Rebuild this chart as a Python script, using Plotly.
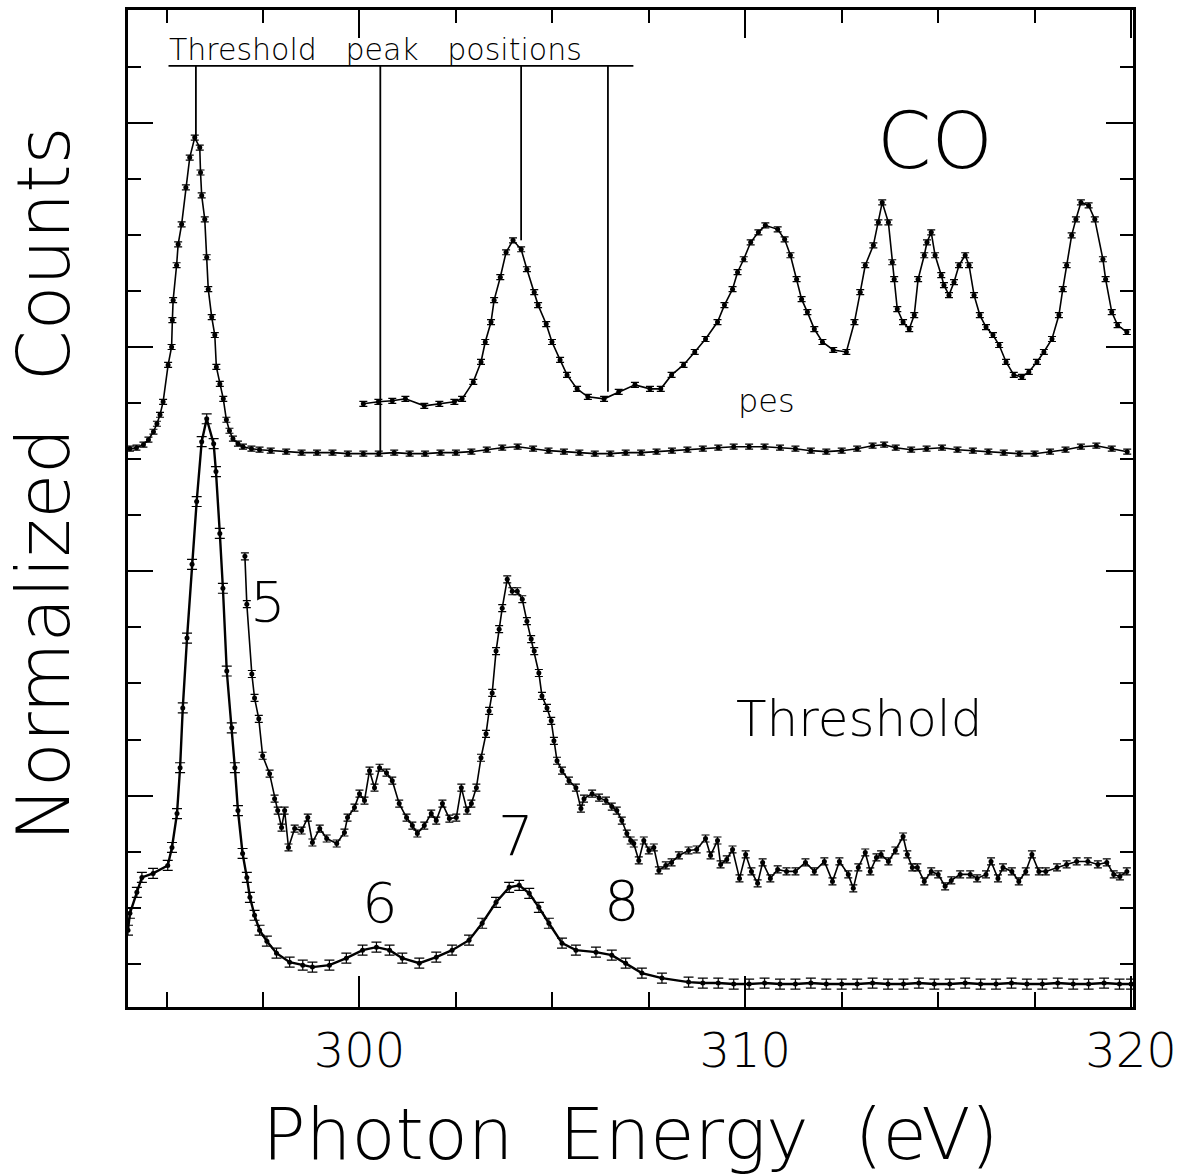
import plotly.graph_objects as go

# ---------------- data ----------------
# Photon energy in eV, normalized counts in arbitrary units (0..100 = axis span)

# CO photoelectron (pes) spectrum, full scale
pes_x = [294.05, 294.22, 294.40, 294.53, 294.66, 294.75, 294.83, 294.91, 295.04, 295.13,
         295.15, 295.17, 295.26, 295.30, 295.39, 295.50, 295.60, 295.73, 295.86, 295.88,
         295.91, 295.99, 296.04, 296.08, 296.17, 296.25, 296.29, 296.38, 296.47, 296.55,
         296.63, 296.72, 296.85, 296.98, 297.20, 297.41,
         297.7, 298.1, 298.5, 298.9, 299.3, 299.7, 300.1, 300.5, 300.9, 301.3,
         301.7, 302.1, 302.5, 302.9, 303.3, 303.7, 304.1, 304.5, 304.9, 305.3,
         305.7, 306.1, 306.5, 306.9, 307.3, 307.7, 308.1, 308.5, 308.9, 309.3,
         309.7, 310.1, 310.5, 310.9, 311.3, 311.7, 312.1, 312.5, 312.9, 313.3,
         313.6, 313.9, 314.3, 314.7, 315.1, 315.5, 315.9, 316.3, 316.7, 317.1,
         317.5, 317.9, 318.3, 318.7, 319.1, 319.5, 319.9]
pes_y = [56.0, 56.1, 56.4, 56.9, 57.7, 58.5, 59.4, 60.7, 64.4, 66.2,
         68.9, 70.9, 74.4, 76.5, 78.5, 82.2, 85.2, 87.2, 86.2, 83.7,
         81.4, 79.0, 75.2, 72.0, 69.2, 67.4, 64.2, 62.5, 61.0, 58.9,
         57.8, 57.0, 56.5, 56.2, 56.0, 55.9,
         55.8, 55.7, 55.6, 55.6, 55.6, 55.5, 55.5, 55.5, 55.6, 55.5,
         55.5, 55.6, 55.6, 55.7, 55.9, 56.1, 56.2, 56.0, 55.8, 55.7,
         55.6, 55.5, 55.5, 55.6, 55.6, 55.7, 55.8, 55.9, 56.0, 56.1,
         56.2, 56.2, 56.2, 56.1, 56.0, 55.8, 55.7, 55.8, 56.0, 56.3,
         56.4, 56.1, 55.9, 56.0, 56.1, 55.9, 55.8, 55.7, 55.6, 55.5,
         55.5, 55.7, 55.9, 56.2, 56.3, 56.0, 55.7]

# CO pes spectrum, magnified and offset
pes_mag_x = [300.10, 300.49, 300.85, 301.19, 301.68, 302.07, 302.46, 302.66, 302.95, 303.15,
             303.26, 303.41, 303.49, 303.65, 303.80, 303.98, 304.19, 304.34, 304.53, 304.63,
             304.84, 304.99, 305.20, 305.38, 305.64, 305.92, 306.34, 306.72, 307.14, 307.53,
             307.81, 308.09, 308.40, 308.69, 308.97, 309.28, 309.46, 309.67, 309.80, 309.96,
             310.14, 310.34, 310.52, 310.84, 311.02, 311.17, 311.33, 311.46, 311.61, 311.79,
             312.00, 312.28, 312.62, 312.83, 312.98, 313.11, 313.32, 313.45, 313.55, 313.71,
             313.81, 313.86, 313.94, 314.09, 314.25, 314.38, 314.48, 314.64, 314.71, 314.82,
             314.92, 315.08, 315.15, 315.28, 315.41, 315.54, 315.70, 315.80, 315.93, 316.08,
             316.24, 316.42, 316.58, 316.76, 316.96, 317.17, 317.35, 317.56, 317.74, 317.95,
             318.13, 318.23, 318.33, 318.46, 318.57, 318.70, 318.90, 319.06, 319.27, 319.34,
             319.50, 319.65, 319.89]
pes_mag_y = [60.5, 60.7, 60.8, 61.0, 60.3, 60.5, 60.7, 61.0, 62.7, 64.7,
             66.7, 68.7, 70.9, 73.2, 75.7, 76.9, 76.0, 74.0, 71.7, 70.4,
             68.5, 66.7, 64.9, 63.4, 62.0, 61.2, 61.0, 61.7, 62.4, 62.0,
             62.0, 63.4, 64.4, 65.7, 67.0, 68.7, 70.4, 72.0, 73.7, 75.0,
             76.7, 77.7, 78.4, 78.0, 77.0, 75.4, 73.0, 71.0, 69.7, 68.0,
             66.7, 65.9, 65.7, 68.7, 71.7, 74.4, 76.4, 78.7, 80.7, 78.7,
             74.7, 73.0, 70.0, 68.7, 68.0, 69.4, 73.0, 75.4, 76.7, 77.7,
             75.4, 73.4, 72.4, 71.4, 72.7, 74.4, 75.4, 74.4, 71.4, 69.4,
             68.2, 67.4, 66.4, 64.7, 63.4, 63.2, 63.7, 64.7, 65.7, 67.0,
             69.4, 72.0, 74.4, 77.4, 79.0, 80.7, 80.4, 79.0, 75.0, 73.0,
             69.7, 68.4, 67.7]

# Threshold spectrum, full scale
thr_x = [294.00, 294.05, 294.23, 294.36, 294.65, 295.03, 295.14, 295.27, 295.35, 295.42,
         295.53, 295.66, 295.78, 295.91, 296.04, 296.22, 296.28, 296.38, 296.46, 296.56,
         296.69, 296.77, 296.85, 296.97, 297.08, 297.16, 297.28, 297.41, 297.60, 297.85,
         298.19, 298.53, 298.78, 299.22, 299.66, 300.08, 300.44, 300.78, 301.11, 301.55,
         301.99, 302.40, 302.84, 303.18, 303.54, 303.88, 304.14, 304.40, 304.65, 304.91,
         305.25, 305.61, 306.13, 306.54, 306.90, 307.32, 307.84, 308.53, 308.9, 309.3,
         309.7, 310.1, 310.5, 310.9, 311.3, 311.7, 312.1, 312.5, 312.9, 313.3,
         313.7, 314.1, 314.5, 314.9, 315.3, 315.7, 316.1, 316.5, 316.9, 317.3,
         317.7, 318.1, 318.5, 318.9, 319.3, 319.7, 320.0]
thr_y = [7.7, 9.4, 11.5, 13.0, 13.4, 14.2, 16.0, 19.4, 24.0, 30.0,
         37.0, 44.4, 50.7, 56.7, 59.0, 56.5, 53.7, 47.5, 42.0, 33.7,
         28.0, 24.0, 19.7, 15.4, 13.0, 11.0, 9.2, 7.7, 6.6, 5.4,
         4.5, 4.2, 4.0, 4.2, 4.9, 5.7, 6.0, 5.7, 4.9, 4.4,
         5.0, 5.7, 6.7, 8.4, 10.5, 12.0, 12.2, 11.4, 10.0, 8.4,
         6.4, 5.7, 5.5, 5.2, 4.4, 3.4, 2.9, 2.5, 2.4, 2.4,
         2.3, 2.3, 2.4, 2.3, 2.3, 2.4, 2.3, 2.3, 2.3, 2.4,
         2.3, 2.3, 2.4, 2.3, 2.3, 2.4, 2.3, 2.3, 2.4, 2.3,
         2.3, 2.4, 2.3, 2.3, 2.4, 2.3, 2.3]

# Threshold spectrum, magnified (x5) and offset
thr_mag_x = [297.03, 297.08, 297.21, 297.28, 297.39, 297.49, 297.67, 297.80, 297.88, 297.98,
             298.06, 298.16, 298.32, 298.50, 298.66, 298.78, 298.97, 299.15, 299.41, 299.61,
             299.69, 299.87, 300.00, 300.13, 300.26, 300.39, 300.52, 300.70, 300.85, 301.03,
             301.22, 301.37, 301.50, 301.68, 301.86, 301.99, 302.15, 302.33, 302.51, 302.64,
             302.79, 302.90, 303.03, 303.15, 303.28, 303.36, 303.44, 303.54, 303.62, 303.70,
             303.83, 303.96, 304.09, 304.22, 304.34, 304.45, 304.53, 304.65, 304.73, 304.86,
             304.97, 305.04, 305.12, 305.25, 305.43, 305.61, 305.74, 305.82, 306.03, 306.21,
             306.39, 306.54, 306.67, 306.80, 306.93, 307.03, 307.11, 307.24, 307.37, 307.50,
             307.63, 307.76, 307.94, 308.09, 308.28, 308.53, 308.74, 308.97, 309.10, 309.28,
             309.36, 309.52, 309.67, 309.85, 310.01, 310.16, 310.32, 310.45, 310.65, 310.84,
             311.07, 311.30, 311.56, 311.79, 312.05, 312.26, 312.44, 312.67, 312.80, 312.93,
             313.11, 313.24, 313.40, 313.52, 313.71, 313.89, 314.09, 314.20, 314.33, 314.46,
             314.64, 314.82, 315.00, 315.18, 315.34, 315.57, 315.83, 316.01, 316.24, 316.37,
             316.55, 316.68, 316.91, 317.09, 317.27, 317.43, 317.61, 317.79, 318.08, 318.33,
             318.59, 318.88, 319.14, 319.37, 319.55, 319.71, 319.89]
thr_mag_y = [45.2, 40.4, 33.4, 31.0, 28.9, 25.2, 23.4, 20.9, 19.7, 18.0,
             19.7, 16.0, 17.9, 17.7, 19.0, 16.5, 17.9, 16.9, 16.4, 17.5,
             19.0, 20.0, 21.4, 20.7, 23.7, 22.0, 24.0, 23.5, 22.7, 20.4,
             19.0, 18.2, 17.4, 18.2, 19.4, 18.7, 20.4, 18.9, 19.0, 22.0,
             19.7, 20.4, 22.0, 25.0, 27.4, 29.7, 31.5, 35.7, 37.9, 40.0,
             42.9, 41.7, 41.7, 40.9, 38.7, 36.9, 35.7, 33.5, 31.2, 30.0,
             28.7, 26.7, 24.7, 23.7, 22.7, 22.0, 19.9, 20.9, 21.4, 21.0,
             20.7, 20.1, 19.7, 18.7, 17.4, 16.7, 16.4, 14.7, 16.7, 15.7,
             16.0, 13.7, 14.2, 14.5, 15.2, 15.7, 15.8, 16.9, 15.2, 16.7,
             14.3, 14.8, 15.8, 12.9, 15.3, 13.6, 12.4, 14.5, 12.9, 13.8,
             13.6, 13.6, 14.5, 13.6, 14.6, 12.6, 14.6, 13.3, 11.9, 14.0,
             15.5, 13.6, 15.0, 15.3, 14.6, 15.7, 17.1, 15.3, 14.0, 14.0,
             12.6, 13.6, 13.3, 12.1, 12.7, 13.3, 13.3, 12.9, 13.3, 14.6,
             12.9, 14.0, 13.6, 12.6, 13.6, 15.3, 13.6, 13.6, 14.0, 14.3,
             14.6, 14.6, 14.3, 14.5, 13.3, 13.1, 13.6]

# Threshold peak positions marker lines
peak_pos_x = [295.76, 300.54, 304.19, 306.44]
peak_line_bottom = [87.2, 55.5, 76.9, 61.7]
peak_bar_y = 94.4
peak_bar_x = [295.05, 307.1]

# Text labels inside the plot
labels_text = ["CO", "pes", "Threshold", "5", "6", "7", "8"]
labels_x = [314.92, 310.55, 312.95, 297.62, 300.54, 304.06, 306.80]
labels_y = [86.9, 60.8, 28.9, 40.7, 10.5, 17.2, 10.7]
labels_size = [78, 32, 50, 56, 56, 56, 56]

tick_vals = [300, 310, 320]
tick_text = ["300", "310", "320"]

x_title = "Photon\u00a0\u00a0Energy\u00a0\u00a0(eV)"
y_title = "Normalized\u00a0\u00a0Counts"

# ---------------- figure ----------------
FONT = "DejaVu Sans"
BLACK = "#000000"

fig = go.Figure()

def add_curve(x, y, err, lw=1.6, msize=5, ewidth=4):
    fig.add_trace(go.Scatter(
        x=x, y=y, mode="lines+markers",
        line=dict(color=BLACK, width=lw),
        marker=dict(symbol="circle", size=msize, color=BLACK),
        error_y=dict(type="constant", value=err, color=BLACK, thickness=1.2, width=ewidth),
        showlegend=False, hoverinfo="skip"))

add_curve(pes_x, pes_y, 0.25)
add_curve(pes_mag_x, pes_mag_y, 0.25)
add_curve(thr_x, thr_y, 0.5, lw=2.4, msize=5, ewidth=5)
add_curve(thr_mag_x, thr_mag_y, 0.35)

# peak position bar + drop lines
lx, ly = [peak_bar_x[0], peak_bar_x[1]], [peak_bar_y, peak_bar_y]
for px, pb in zip(peak_pos_x, peak_line_bottom):
    lx += [None, px, px]
    ly += [None, peak_bar_y, pb]
fig.add_trace(go.Scatter(x=lx, y=ly, mode="lines", line=dict(color=BLACK, width=1.8),
                         showlegend=False, hoverinfo="skip"))

# invisible trace to carry the mirrored tick axes (top / right)
fig.add_trace(go.Scatter(x=[], y=[], xaxis="x2", yaxis="y2", showlegend=False))

fig.add_annotation(x=peak_bar_x[0] - 0.02, y=96.0, xref="x", yref="y",
                   text="Threshold\u00a0\u00a0\u00a0peak\u00a0\u00a0\u00a0positions",
                   showarrow=False, xanchor="left", yanchor="middle", borderpad=0,
                   font=dict(family=FONT, size=30, color=BLACK, weight=200))

for t, x, y, s in zip(labels_text, labels_x, labels_y, labels_size):
    fig.add_annotation(x=x, y=y, xref="x", yref="y", text=t, showarrow=False,
                       xanchor="center", yanchor="middle", borderpad=0,
                       font=dict(family=FONT, size=s, color=BLACK, weight=200))

# y-axis title (placed as rotated text so it sits where the original has it)
fig.add_annotation(x=-0.0836, y=0.525, xref="paper", yref="paper", text=y_title,
                   textangle=-90, showarrow=False, xanchor="center", yanchor="middle",
                   borderpad=0, font=dict(family=FONT, size=73, color=BLACK, weight=200))

XR = [294, 320.05]
YR = [0, 100]

fig.update_layout(
    width=1190, height=1176,
    margin=dict(l=128, r=57, t=7, b=169),
    paper_bgcolor="white", plot_bgcolor="white",
    showlegend=False,
    font=dict(family=FONT, color=BLACK, weight=200),
    xaxis=dict(
        range=XR, showgrid=False, zeroline=False,
        showline=True, linecolor=BLACK, linewidth=2.5, mirror=True,
        tickmode="array", tickvals=tick_vals, ticktext=tick_text,
        ticks="inside", ticklen=31, tickwidth=2, tickcolor=BLACK,
        minor=dict(tickmode="linear", tick0=300, dtick=2.5, ticks="inside",
                   ticklen=15, tickwidth=2, tickcolor=BLACK, showgrid=False),
        tickfont=dict(family=FONT, size=48, color=BLACK, weight=200),
        ticklabelstandoff=0,
        title=dict(text=x_title,
                   font=dict(family=FONT, size=72, color=BLACK, weight=200),
                   standoff=36),
    ),
    yaxis=dict(
        range=YR, showgrid=False, zeroline=False,
        showline=True, linecolor=BLACK, linewidth=2.5, mirror=True,
        tickmode="linear", tick0=21.2, dtick=22.5,
        ticks="inside", ticklen=25, tickwidth=2, tickcolor=BLACK,
        minor=dict(tickmode="linear", tick0=21.2, dtick=5.625, ticks="inside",
                   ticklen=13, tickwidth=2, tickcolor=BLACK, showgrid=False),
        showticklabels=False,
    ),
    xaxis2=dict(
        range=XR, overlaying="x", side="top", anchor="y2", showgrid=False, zeroline=False,
        showline=False, showticklabels=False,
        tickmode="linear", tick0=300, dtick=10,
        ticks="inside", ticklen=28, tickwidth=2, tickcolor=BLACK,
        minor=dict(tickmode="linear", tick0=300, dtick=2.5, ticks="inside",
                   ticklen=13, tickwidth=2, tickcolor=BLACK, showgrid=False),
    ),
    yaxis2=dict(
        range=YR, overlaying="y", side="right", anchor="x2", showgrid=False, zeroline=False,
        showline=False, showticklabels=False,
        tickmode="linear", tick0=21.2, dtick=22.5,
        ticks="inside", ticklen=27, tickwidth=2, tickcolor=BLACK,
        minor=dict(tickmode="linear", tick0=21.2, dtick=5.625, ticks="inside",
                   ticklen=13, tickwidth=2, tickcolor=BLACK, showgrid=False),
    ),
)

fig.write_html("out.html")
